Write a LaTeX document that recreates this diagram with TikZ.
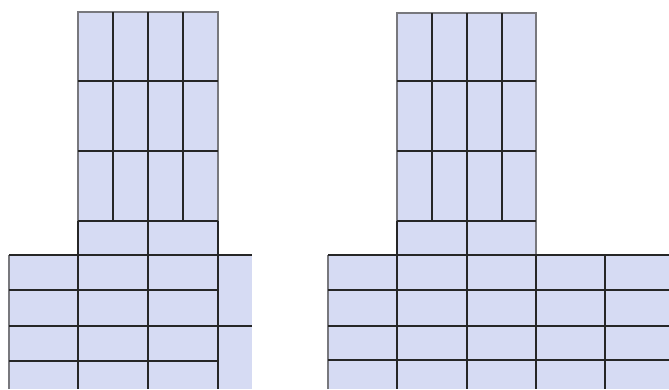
\documentclass[tikz,border=0pt]{standalone}
\usepackage{tikz}
\usetikzlibrary{calc}
\definecolor{cellfill}{RGB}{214,219,243}
\definecolor{edgegray}{RGB}{120,120,125}

\begin{document}
\begin{tikzpicture}[x=0.03cm,y=-0.03cm,
    grid/.style={line width=1.1pt,black!85},
    rim/.style={line width=0.9pt,edgegray}]
  \useasboundingbox (0,0) rectangle (669,389);
  % 左の図：柱と下の床，右端に細い帯
  \fill[cellfill] (78,12) rectangle (218,255);
  \fill[cellfill] (9,255) rectangle (252,389);
  \draw[rim] (78,255) |- (218,12) -- (218,255);
  \draw[rim] (9,389) -- (9,255);
  \foreach \xc in {113,148,183}{
    \draw[grid] (\xc,12) -- (\xc,221);
  }
  \foreach \yr in {81,151,221}{
    \draw[grid] (78,\yr) -- (218,\yr);
  }
  \draw[grid] (148,221) -- (148,389);
  \draw[grid] (78,221) -- (78,389);
  \draw[grid] (218,221) -- (218,389);
  \draw[grid] (9,255) -- (252,255);
  \foreach \yr in {290,361}{
    \draw[grid] (9,\yr) -- (218,\yr);
  }
  \draw[grid] (9,326) -- (252,326);
  % 右の図：柱と広い床(5列)
  \fill[cellfill] (397,13) rectangle (536,255);
  \fill[cellfill] (328,255) rectangle (669,389);
  \draw[rim] (397,255) |- (536,13) -- (536,255);
  \draw[rim] (328,389) -- (328,255);
  \foreach \xc in {432,467,502}{
    \draw[grid] (\xc,13) -- (\xc,221);
  }
  \foreach \yr in {81,151,221}{
    \draw[grid] (397,\yr) -- (536,\yr);
  }
  \foreach \xc/\ys in {397/221,467/221,536/255,605/255}{
    \draw[grid] (\xc,\ys) -- (\xc,389);
  }
  \foreach \yr in {255,290,326,360}{
    \draw[grid] (328,\yr) -- (669,\yr);
  }
\end{tikzpicture}
\end{document}
